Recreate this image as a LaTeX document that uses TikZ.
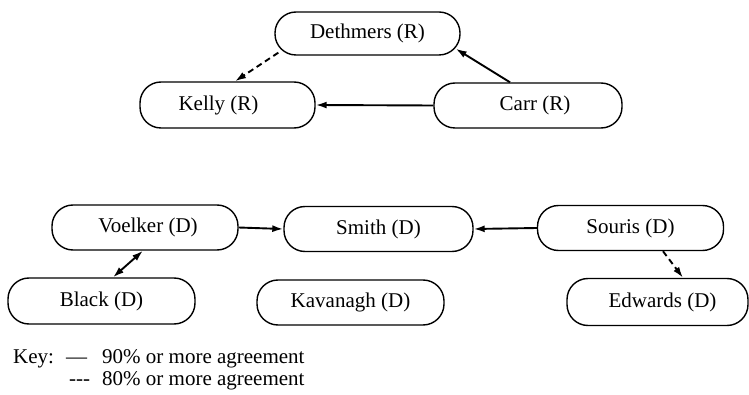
\documentclass[tikz,border=0pt]{standalone}
\usepackage{fontspec}
\setmainfont{Liberation Serif}
\usetikzlibrary{arrows.meta,calc}
\begin{document}
\begin{tikzpicture}[x=1pt,y=-1pt,
  person/.style={draw,line width=1.4pt,rounded corners=21pt,minimum height=45pt,inner sep=0pt,font=\fontsize{21pt}{25pt}\selectfont},
  strong/.style={line width=1.9pt,-{Latex[length=11pt,width=7pt]}},
  weak/.style={line width=1.9pt,dash pattern=on 6pt off 4pt,-{Latex[length=11pt,width=7pt]}},
  keytext/.style={anchor=base west,inner sep=0pt,font=\fontsize{21pt}{25pt}\selectfont}]
\useasboundingbox (0,0) rectangle (749,395);
\node[person,minimum width=185pt,minimum height=43pt] (deth) at (367.5,33.5) {Dethmers (R)};
\node[person,minimum width=175pt,minimum height=46pt] (kelly) at (227.5,105) {\hspace*{-18pt}Kelly (R)};
\node[person,minimum width=188pt] (carr) at (528,105.5) {\hspace*{14pt}Carr (R)};
\node[person,minimum width=186pt] (voel) at (145,227.5) {\hspace*{6pt}Voelker (D)};
\node[person,minimum width=189pt] (smith) at (378.5,229) {Smith (D)};
\node[person,minimum width=186pt] (souris) at (630.5,228) {Souris (D)};
\node[person,minimum width=187pt,minimum height=46pt] (black) at (101.5,301) {Black (D)};
\node[person,minimum width=187pt] (kav) at (350.5,302.5) {Kavanagh (D)};
\node[person,minimum width=181pt,minimum height=47pt] (edw) at (657.5,302) {\hspace*{10pt}Edwards (D)};
\draw[weak] ($(deth.south west)+(4,-3)$) -- ($(kelly.north)+(7.5,0)$);
\draw[strong] ($(carr.north)+(-18,0)$) -- ($(deth.south east)+(-5,-7)$);
\draw[strong] (carr.west) -- (kelly.east);
\draw[strong] (voel.east) -- (smith.west);
\draw[strong] (souris.west) -- (smith.east);
\draw[line width=1.9pt,{Latex[length=11pt,width=7pt]}-{Latex[length=11pt,width=7pt]}] ($(black.north)+(11.5,0)$) -- ($(voel.south)+(-2,0)$);
\draw[weak] ($(souris.south)+(32.5,0)$) -- ($(edw.north)+(25.5,0)$);
\node[keytext] (key) at (13,363) {Key:};
\node[keytext] (d1) at (66,363) {—};
\node[keytext] (k1) at (102,363) {90\% or more agreement};
\node[keytext] (d2) at (69,385) {-{}-{}-};
\node[keytext] (k2) at (102,385) {80\% or more agreement};
\end{tikzpicture}
\end{document}
